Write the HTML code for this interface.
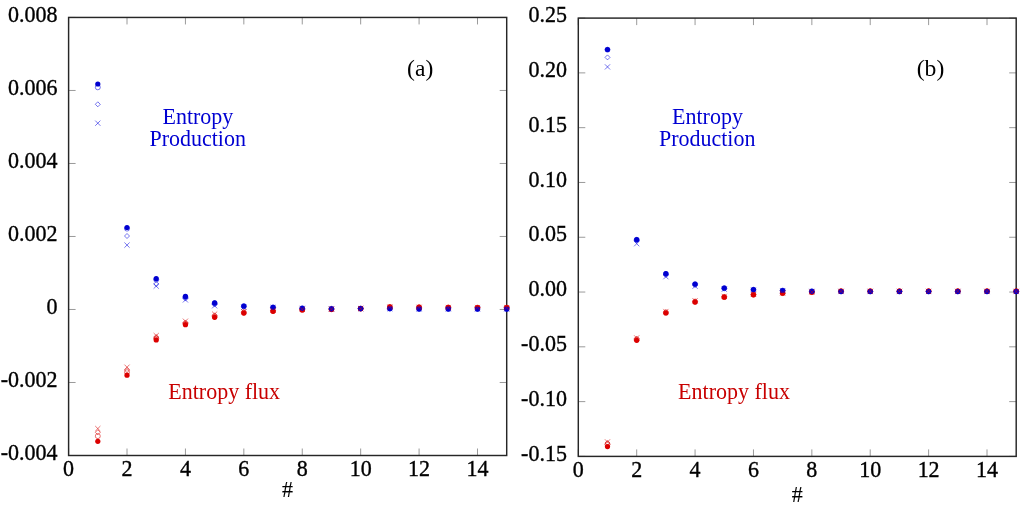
<!DOCTYPE html>
<html><head><meta charset="utf-8"><style>
html,body{margin:0;padding:0;background:#fff;}
svg{display:block;will-change:transform;}
text{font-family:"Liberation Serif",serif;}
</style></head><body>
<svg width="1024" height="505" viewBox="0 0 1024 505">
<rect width="1024" height="505" fill="#fff"/>
<g stroke="#9a9a9a" stroke-width="1" fill="none"><path d="M68.6 455.5V448.5M68.6 17.45V24.45"/><path d="M127.01 455.5V448.5M127.01 17.45V24.45"/><path d="M185.43 455.5V448.5M185.43 17.45V24.45"/><path d="M243.84 455.5V448.5M243.84 17.45V24.45"/><path d="M302.25 455.5V448.5M302.25 17.45V24.45"/><path d="M360.67 455.5V448.5M360.67 17.45V24.45"/><path d="M419.08 455.5V448.5M419.08 17.45V24.45"/><path d="M477.49 455.5V448.5M477.49 17.45V24.45"/><path d="M68.6 17.45H75.6M506.7 17.45H499.7"/><path d="M68.6 90.46H75.6M506.7 90.46H499.7"/><path d="M68.6 163.47H75.6M506.7 163.47H499.7"/><path d="M68.6 236.48H75.6M506.7 236.48H499.7"/><path d="M68.6 309.48H75.6M506.7 309.48H499.7"/><path d="M68.6 382.49H75.6M506.7 382.49H499.7"/><path d="M68.6 455.5H75.6M506.7 455.5H499.7"/><path d="M578.3 456.4V449.4M578.3 18.1V25.1"/><path d="M636.69 456.4V449.4M636.69 18.1V25.1"/><path d="M695.07 456.4V449.4M695.07 18.1V25.1"/><path d="M753.46 456.4V449.4M753.46 18.1V25.1"/><path d="M811.85 456.4V449.4M811.85 18.1V25.1"/><path d="M870.23 456.4V449.4M870.23 18.1V25.1"/><path d="M928.62 456.4V449.4M928.62 18.1V25.1"/><path d="M987.01 456.4V449.4M987.01 18.1V25.1"/><path d="M578.3 18.1H585.3M1016.2 18.1H1009.2"/><path d="M578.3 72.89H585.3M1016.2 72.89H1009.2"/><path d="M578.3 127.67H585.3M1016.2 127.67H1009.2"/><path d="M578.3 182.46H585.3M1016.2 182.46H1009.2"/><path d="M578.3 237.25H585.3M1016.2 237.25H1009.2"/><path d="M578.3 292.04H585.3M1016.2 292.04H1009.2"/><path d="M578.3 346.82H585.3M1016.2 346.82H1009.2"/><path d="M578.3 401.61H585.3M1016.2 401.61H1009.2"/><path d="M578.3 456.4H585.3M1016.2 456.4H1009.2"/></g>
<g fill="none" stroke="#262626" stroke-width="1.45"><rect x="68.6" y="17.45" width="438.1" height="438.05"/><rect x="578.3" y="18.1" width="437.9" height="438.3"/></g>
<g font-size="22" fill="#000" stroke="#000" stroke-width="0.35">
<text transform="translate(57.5 21.65) scale(1 1.09)" text-anchor="end">0.008</text>
<text transform="translate(57.5 94.66) scale(1 1.09)" text-anchor="end">0.006</text>
<text transform="translate(57.5 167.67) scale(1 1.09)" text-anchor="end">0.004</text>
<text transform="translate(57.5 240.68) scale(1 1.09)" text-anchor="end">0.002</text>
<text transform="translate(57.5 313.68) scale(1 1.09)" text-anchor="end">0</text>
<text transform="translate(57.5 386.69) scale(1 1.09)" text-anchor="end">-0.002</text>
<text transform="translate(57.5 459.7) scale(1 1.09)" text-anchor="end">-0.004</text>
<text transform="translate(566.9 22.3) scale(1 1.09)" text-anchor="end">0.25</text>
<text transform="translate(566.9 77.09) scale(1 1.09)" text-anchor="end">0.20</text>
<text transform="translate(566.9 131.87) scale(1 1.09)" text-anchor="end">0.15</text>
<text transform="translate(566.9 186.66) scale(1 1.09)" text-anchor="end">0.10</text>
<text transform="translate(566.9 241.45) scale(1 1.09)" text-anchor="end">0.05</text>
<text transform="translate(566.9 296.24) scale(1 1.09)" text-anchor="end">0.00</text>
<text transform="translate(566.9 351.02) scale(1 1.09)" text-anchor="end">-0.05</text>
<text transform="translate(566.9 405.81) scale(1 1.09)" text-anchor="end">-0.10</text>
<text transform="translate(566.9 460.6) scale(1 1.09)" text-anchor="end">-0.15</text>
<text transform="translate(68.6 476.2) scale(1 1.09)" text-anchor="middle">0</text>
<text transform="translate(578.3 477.2) scale(1 1.09)" text-anchor="middle">0</text>
<text transform="translate(127.01 476.2) scale(1 1.09)" text-anchor="middle">2</text>
<text transform="translate(636.69 477.2) scale(1 1.09)" text-anchor="middle">2</text>
<text transform="translate(185.43 476.2) scale(1 1.09)" text-anchor="middle">4</text>
<text transform="translate(695.07 477.2) scale(1 1.09)" text-anchor="middle">4</text>
<text transform="translate(243.84 476.2) scale(1 1.09)" text-anchor="middle">6</text>
<text transform="translate(753.46 477.2) scale(1 1.09)" text-anchor="middle">6</text>
<text transform="translate(302.25 476.2) scale(1 1.09)" text-anchor="middle">8</text>
<text transform="translate(811.85 477.2) scale(1 1.09)" text-anchor="middle">8</text>
<text transform="translate(360.67 476.2) scale(1 1.09)" text-anchor="middle">10</text>
<text transform="translate(870.23 477.2) scale(1 1.09)" text-anchor="middle">10</text>
<text transform="translate(419.08 476.2) scale(1 1.09)" text-anchor="middle">12</text>
<text transform="translate(928.62 477.2) scale(1 1.09)" text-anchor="middle">12</text>
<text transform="translate(477.49 476.2) scale(1 1.09)" text-anchor="middle">14</text>
<text transform="translate(987.01 477.2) scale(1 1.09)" text-anchor="middle">14</text>
<text transform="translate(287.6 497.1) scale(1 1.03)" text-anchor="middle" stroke-width="0.1">#</text>
<text transform="translate(797.2 501.6) scale(1 1.03)" text-anchor="middle" stroke-width="0.1">#</text>
</g>
<g font-size="22">
<text transform="translate(420.2 75.6) scale(1 0.98)" text-anchor="middle" font-size="23.6">(a)</text>
<text transform="translate(930.5 76.4) scale(1 0.98)" text-anchor="middle" font-size="23.6">(b)</text>
<text transform="translate(197.9 124.1) scale(1 1.09)" text-anchor="middle" fill="#0000d2">Entropy</text>
<text transform="translate(197.7 145.6) scale(1 1.09)" text-anchor="middle" fill="#0000d2">Production</text>
<text transform="translate(707.5 124.3) scale(1 1.09)" text-anchor="middle" fill="#0000d2">Entropy</text>
<text transform="translate(707.2 145.9) scale(1 1.09)" text-anchor="middle" fill="#0000d2">Production</text>
<text transform="translate(224.2 398.6) scale(1 1.09)" text-anchor="middle" fill="#c80000">Entropy flux</text>
<text transform="translate(734 399) scale(1 1.09)" text-anchor="middle" fill="#c80000">Entropy flux</text>
</g>
<circle cx="97.81" cy="87.3" r="2.5" fill="none" stroke="#0000e0" stroke-width="0.9" stroke-opacity="0.6"/>
<path d="M97.81 101.8L100.31 104.3L97.81 106.8L95.31 104.3Z" fill="none" stroke="#0000e0" stroke-width="0.9" stroke-opacity="0.6"/>
<path d="M95.21 120.6L100.41 125.8M100.41 120.6L95.21 125.8" fill="none" stroke="#0000e0" stroke-width="0.9" stroke-opacity="0.6"/>
<circle cx="127.01" cy="228.6" r="2.5" fill="none" stroke="#0000e0" stroke-width="0.9" stroke-opacity="0.6"/>
<path d="M127.01 233.5L129.51 236L127.01 238.5L124.51 236Z" fill="none" stroke="#0000e0" stroke-width="0.9" stroke-opacity="0.6"/>
<path d="M124.41 242.5L129.61 247.7M129.61 242.5L124.41 247.7" fill="none" stroke="#0000e0" stroke-width="0.9" stroke-opacity="0.6"/>
<circle cx="156.22" cy="279.6" r="2.5" fill="none" stroke="#0000e0" stroke-width="0.9" stroke-opacity="0.6"/>
<path d="M156.22 281.5L158.72 284L156.22 286.5L153.72 284Z" fill="none" stroke="#0000e0" stroke-width="0.9" stroke-opacity="0.6"/>
<path d="M153.62 283.5L158.82 288.7M158.82 283.5L153.62 288.7" fill="none" stroke="#0000e0" stroke-width="0.9" stroke-opacity="0.6"/>
<circle cx="185.43" cy="297" r="2.5" fill="none" stroke="#0000e0" stroke-width="0.9" stroke-opacity="0.6"/>
<path d="M185.43 296L187.93 298.5L185.43 301L182.93 298.5Z" fill="none" stroke="#0000e0" stroke-width="0.9" stroke-opacity="0.6"/>
<path d="M182.83 297.3L188.03 302.5M188.03 297.3L182.83 302.5" fill="none" stroke="#0000e0" stroke-width="0.9" stroke-opacity="0.6"/>
<circle cx="214.63" cy="303.2" r="2.5" fill="none" stroke="#0000e0" stroke-width="0.9" stroke-opacity="0.6"/>
<path d="M214.63 302L217.13 304.5L214.63 307L212.13 304.5Z" fill="none" stroke="#0000e0" stroke-width="0.9" stroke-opacity="0.6"/>
<path d="M212.03 303.2L217.23 308.4M217.23 303.2L212.03 308.4" fill="none" stroke="#0000e0" stroke-width="0.9" stroke-opacity="0.6"/>
<circle cx="243.84" cy="306.2" r="2.5" fill="none" stroke="#0000e0" stroke-width="0.9" stroke-opacity="0.6"/>
<path d="M243.84 304.3L246.34 306.8L243.84 309.3L241.34 306.8Z" fill="none" stroke="#0000e0" stroke-width="0.9" stroke-opacity="0.6"/>
<path d="M241.24 304.6L246.44 309.8M246.44 304.6L241.24 309.8" fill="none" stroke="#0000e0" stroke-width="0.9" stroke-opacity="0.6"/>
<circle cx="273.05" cy="307.4" r="2.5" fill="none" stroke="#0000e0" stroke-width="0.9" stroke-opacity="0.6"/>
<path d="M273.05 305.1L275.55 307.6L273.05 310.1L270.55 307.6Z" fill="none" stroke="#0000e0" stroke-width="0.9" stroke-opacity="0.6"/>
<path d="M270.45 305L275.65 310.2M275.65 305L270.45 310.2" fill="none" stroke="#0000e0" stroke-width="0.9" stroke-opacity="0.6"/>
<circle cx="302.25" cy="308.3" r="2.5" fill="none" stroke="#0000e0" stroke-width="0.9" stroke-opacity="0.6"/>
<path d="M302.25 305.9L304.75 308.4L302.25 310.9L299.75 308.4Z" fill="none" stroke="#0000e0" stroke-width="0.9" stroke-opacity="0.6"/>
<path d="M299.65 305.8L304.85 311M304.85 305.8L299.65 311" fill="none" stroke="#0000e0" stroke-width="0.9" stroke-opacity="0.6"/>
<circle cx="331.46" cy="308.8" r="2.5" fill="none" stroke="#0000e0" stroke-width="0.9" stroke-opacity="0.6"/>
<path d="M331.46 306.3L333.96 308.8L331.46 311.3L328.96 308.8Z" fill="none" stroke="#0000e0" stroke-width="0.9" stroke-opacity="0.6"/>
<path d="M328.86 306.2L334.06 311.4M334.06 306.2L328.86 311.4" fill="none" stroke="#0000e0" stroke-width="0.9" stroke-opacity="0.6"/>
<circle cx="360.67" cy="308.6" r="2.5" fill="none" stroke="#0000e0" stroke-width="0.9" stroke-opacity="0.6"/>
<path d="M360.67 306.1L363.17 308.6L360.67 311.1L358.17 308.6Z" fill="none" stroke="#0000e0" stroke-width="0.9" stroke-opacity="0.6"/>
<path d="M358.07 306L363.27 311.2M363.27 306L358.07 311.2" fill="none" stroke="#0000e0" stroke-width="0.9" stroke-opacity="0.6"/>
<circle cx="389.87" cy="308.6" r="2.5" fill="none" stroke="#0000e0" stroke-width="0.9" stroke-opacity="0.6"/>
<path d="M389.87 306.1L392.37 308.6L389.87 311.1L387.37 308.6Z" fill="none" stroke="#0000e0" stroke-width="0.9" stroke-opacity="0.6"/>
<path d="M387.27 306L392.47 311.2M392.47 306L387.27 311.2" fill="none" stroke="#0000e0" stroke-width="0.9" stroke-opacity="0.6"/>
<circle cx="419.08" cy="308.9" r="2.5" fill="none" stroke="#0000e0" stroke-width="0.9" stroke-opacity="0.6"/>
<path d="M419.08 306.4L421.58 308.9L419.08 311.4L416.58 308.9Z" fill="none" stroke="#0000e0" stroke-width="0.9" stroke-opacity="0.6"/>
<path d="M416.48 306.3L421.68 311.5M421.68 306.3L416.48 311.5" fill="none" stroke="#0000e0" stroke-width="0.9" stroke-opacity="0.6"/>
<circle cx="448.29" cy="308.9" r="2.5" fill="none" stroke="#0000e0" stroke-width="0.9" stroke-opacity="0.6"/>
<path d="M448.29 306.4L450.79 308.9L448.29 311.4L445.79 308.9Z" fill="none" stroke="#0000e0" stroke-width="0.9" stroke-opacity="0.6"/>
<path d="M445.69 306.3L450.89 311.5M450.89 306.3L445.69 311.5" fill="none" stroke="#0000e0" stroke-width="0.9" stroke-opacity="0.6"/>
<circle cx="477.49" cy="309" r="2.5" fill="none" stroke="#0000e0" stroke-width="0.9" stroke-opacity="0.6"/>
<path d="M477.49 306.5L479.99 309L477.49 311.5L474.99 309Z" fill="none" stroke="#0000e0" stroke-width="0.9" stroke-opacity="0.6"/>
<path d="M474.89 306.4L480.09 311.6M480.09 306.4L474.89 311.6" fill="none" stroke="#0000e0" stroke-width="0.9" stroke-opacity="0.6"/>
<circle cx="506.7" cy="309" r="2.5" fill="none" stroke="#0000e0" stroke-width="0.9" stroke-opacity="0.6"/>
<path d="M506.7 306.5L509.2 309L506.7 311.5L504.2 309Z" fill="none" stroke="#0000e0" stroke-width="0.9" stroke-opacity="0.6"/>
<path d="M504.1 306.4L509.3 311.6M509.3 306.4L504.1 311.6" fill="none" stroke="#0000e0" stroke-width="0.9" stroke-opacity="0.6"/>
<circle cx="97.81" cy="436.1" r="2.5" fill="none" stroke="#d80000" stroke-width="0.9" stroke-opacity="0.6"/>
<path d="M97.81 429.8L100.31 432.3L97.81 434.8L95.31 432.3Z" fill="none" stroke="#d80000" stroke-width="0.9" stroke-opacity="0.6"/>
<circle cx="127.01" cy="372.2" r="2.5" fill="none" stroke="#d80000" stroke-width="0.9" stroke-opacity="0.6"/>
<path d="M127.01 367.6L129.51 370.1L127.01 372.6L124.51 370.1Z" fill="none" stroke="#d80000" stroke-width="0.9" stroke-opacity="0.6"/>
<circle cx="156.22" cy="338.5" r="2.5" fill="none" stroke="#d80000" stroke-width="0.9" stroke-opacity="0.6"/>
<path d="M156.22 334.5L158.72 337L156.22 339.5L153.72 337Z" fill="none" stroke="#d80000" stroke-width="0.9" stroke-opacity="0.6"/>
<circle cx="185.43" cy="323.8" r="2.5" fill="none" stroke="#d80000" stroke-width="0.9" stroke-opacity="0.6"/>
<path d="M185.43 320L187.93 322.5L185.43 325L182.93 322.5Z" fill="none" stroke="#d80000" stroke-width="0.9" stroke-opacity="0.6"/>
<circle cx="214.63" cy="316.5" r="2.5" fill="none" stroke="#d80000" stroke-width="0.9" stroke-opacity="0.6"/>
<path d="M214.63 312.8L217.13 315.3L214.63 317.8L212.13 315.3Z" fill="none" stroke="#d80000" stroke-width="0.9" stroke-opacity="0.6"/>
<circle cx="243.84" cy="312.6" r="2.5" fill="none" stroke="#d80000" stroke-width="0.9" stroke-opacity="0.6"/>
<path d="M243.84 309.5L246.34 312L243.84 314.5L241.34 312Z" fill="none" stroke="#d80000" stroke-width="0.9" stroke-opacity="0.6"/>
<circle cx="273.05" cy="311" r="2.5" fill="none" stroke="#d80000" stroke-width="0.9" stroke-opacity="0.6"/>
<path d="M273.05 308.2L275.55 310.7L273.05 313.2L270.55 310.7Z" fill="none" stroke="#d80000" stroke-width="0.9" stroke-opacity="0.6"/>
<circle cx="302.25" cy="309.8" r="2.5" fill="none" stroke="#d80000" stroke-width="0.9" stroke-opacity="0.6"/>
<path d="M302.25 307.1L304.75 309.6L302.25 312.1L299.75 309.6Z" fill="none" stroke="#d80000" stroke-width="0.9" stroke-opacity="0.6"/>
<circle cx="331.46" cy="309.3" r="2.5" fill="none" stroke="#d80000" stroke-width="0.9" stroke-opacity="0.6"/>
<path d="M331.46 306.7L333.96 309.2L331.46 311.7L328.96 309.2Z" fill="none" stroke="#d80000" stroke-width="0.9" stroke-opacity="0.6"/>
<circle cx="360.67" cy="308.6" r="2.5" fill="none" stroke="#d80000" stroke-width="0.9" stroke-opacity="0.6"/>
<path d="M360.67 306.1L363.17 308.6L360.67 311.1L358.17 308.6Z" fill="none" stroke="#d80000" stroke-width="0.9" stroke-opacity="0.6"/>
<circle cx="389.87" cy="307" r="2.5" fill="none" stroke="#d80000" stroke-width="0.9" stroke-opacity="0.6"/>
<path d="M389.87 304.5L392.37 307L389.87 309.5L387.37 307Z" fill="none" stroke="#d80000" stroke-width="0.9" stroke-opacity="0.6"/>
<circle cx="419.08" cy="307.3" r="2.5" fill="none" stroke="#d80000" stroke-width="0.9" stroke-opacity="0.6"/>
<path d="M419.08 304.8L421.58 307.3L419.08 309.8L416.58 307.3Z" fill="none" stroke="#d80000" stroke-width="0.9" stroke-opacity="0.6"/>
<circle cx="448.29" cy="307.5" r="2.5" fill="none" stroke="#d80000" stroke-width="0.9" stroke-opacity="0.6"/>
<path d="M448.29 305L450.79 307.5L448.29 310L445.79 307.5Z" fill="none" stroke="#d80000" stroke-width="0.9" stroke-opacity="0.6"/>
<circle cx="477.49" cy="307.6" r="2.5" fill="none" stroke="#d80000" stroke-width="0.9" stroke-opacity="0.6"/>
<path d="M477.49 305.1L479.99 307.6L477.49 310.1L474.99 307.6Z" fill="none" stroke="#d80000" stroke-width="0.9" stroke-opacity="0.6"/>
<circle cx="506.7" cy="307.6" r="2.5" fill="none" stroke="#d80000" stroke-width="0.9" stroke-opacity="0.6"/>
<path d="M506.7 305.1L509.2 307.6L506.7 310.1L504.2 307.6Z" fill="none" stroke="#d80000" stroke-width="0.9" stroke-opacity="0.6"/>
<circle cx="97.81" cy="441.3" r="2.6" fill="#dc0000"/>
<circle cx="127.01" cy="375.2" r="2.6" fill="#dc0000"/>
<circle cx="156.22" cy="339.9" r="2.6" fill="#dc0000"/>
<circle cx="185.43" cy="324.7" r="2.6" fill="#dc0000"/>
<circle cx="214.63" cy="317.3" r="2.6" fill="#dc0000"/>
<circle cx="243.84" cy="313.1" r="2.6" fill="#dc0000"/>
<circle cx="273.05" cy="311.3" r="2.6" fill="#dc0000"/>
<circle cx="302.25" cy="310" r="2.6" fill="#dc0000"/>
<circle cx="331.46" cy="309.4" r="2.6" fill="#dc0000"/>
<circle cx="360.67" cy="308.6" r="2.6" fill="#dc0000"/>
<circle cx="389.87" cy="306.9" r="2.6" fill="#dc0000"/>
<circle cx="419.08" cy="307.2" r="2.6" fill="#dc0000"/>
<circle cx="448.29" cy="307.4" r="2.6" fill="#dc0000"/>
<circle cx="477.49" cy="307.5" r="2.6" fill="#dc0000"/>
<circle cx="506.7" cy="307.5" r="2.6" fill="#dc0000"/>
<circle cx="97.81" cy="84" r="2.6" fill="#0000d0"/>
<circle cx="127.01" cy="227.5" r="2.6" fill="#0000d0"/>
<circle cx="156.22" cy="278.7" r="2.6" fill="#0000d0"/>
<circle cx="185.43" cy="296.4" r="2.6" fill="#0000d0"/>
<circle cx="214.63" cy="302.9" r="2.6" fill="#0000d0"/>
<circle cx="243.84" cy="306" r="2.6" fill="#0000d0"/>
<circle cx="273.05" cy="307.3" r="2.6" fill="#0000d0"/>
<circle cx="302.25" cy="308.3" r="2.6" fill="#0000d0"/>
<circle cx="331.46" cy="308.8" r="2.6" fill="#0000d0"/>
<circle cx="360.67" cy="308.6" r="2.6" fill="#0000d0"/>
<circle cx="389.87" cy="308.6" r="2.6" fill="#0000d0"/>
<circle cx="419.08" cy="308.9" r="2.6" fill="#0000d0"/>
<circle cx="448.29" cy="308.9" r="2.6" fill="#0000d0"/>
<circle cx="477.49" cy="309" r="2.6" fill="#0000d0"/>
<circle cx="506.7" cy="309" r="2.6" fill="#0000d0"/>
<path d="M95.21 426L100.41 431.2M100.41 426L95.21 431.2" fill="none" stroke="#d80000" stroke-width="0.9" stroke-opacity="0.6"/>
<path d="M124.41 364.6L129.61 369.8M129.61 364.6L124.41 369.8" fill="none" stroke="#d80000" stroke-width="0.9" stroke-opacity="0.6"/>
<path d="M153.62 333L158.82 338.2M158.82 333L153.62 338.2" fill="none" stroke="#d80000" stroke-width="0.9" stroke-opacity="0.6"/>
<path d="M182.83 318.6L188.03 323.8M188.03 318.6L182.83 323.8" fill="none" stroke="#d80000" stroke-width="0.9" stroke-opacity="0.6"/>
<path d="M212.03 311.5L217.23 316.7M217.23 311.5L212.03 316.7" fill="none" stroke="#d80000" stroke-width="0.9" stroke-opacity="0.6"/>
<path d="M241.24 308.9L246.44 314.1M246.44 308.9L241.24 314.1" fill="none" stroke="#d80000" stroke-width="0.9" stroke-opacity="0.6"/>
<path d="M270.45 307.8L275.65 313M275.65 307.8L270.45 313" fill="none" stroke="#d80000" stroke-width="0.9" stroke-opacity="0.6"/>
<path d="M299.65 306.8L304.85 312M304.85 306.8L299.65 312" fill="none" stroke="#d80000" stroke-width="0.9" stroke-opacity="0.6"/>
<path d="M328.86 306.5L334.06 311.7M334.06 306.5L328.86 311.7" fill="none" stroke="#d80000" stroke-width="0.9" stroke-opacity="0.6"/>
<path d="M358.07 306L363.27 311.2M363.27 306L358.07 311.2" fill="none" stroke="#d80000" stroke-width="0.9" stroke-opacity="0.6"/>
<path d="M387.27 304.4L392.47 309.6M392.47 304.4L387.27 309.6" fill="none" stroke="#d80000" stroke-width="0.9" stroke-opacity="0.6"/>
<path d="M416.48 304.7L421.68 309.9M421.68 304.7L416.48 309.9" fill="none" stroke="#d80000" stroke-width="0.9" stroke-opacity="0.6"/>
<path d="M445.69 304.9L450.89 310.1M450.89 304.9L445.69 310.1" fill="none" stroke="#d80000" stroke-width="0.9" stroke-opacity="0.6"/>
<path d="M474.89 305L480.09 310.2M480.09 305L474.89 310.2" fill="none" stroke="#d80000" stroke-width="0.9" stroke-opacity="0.6"/>
<path d="M504.1 305L509.3 310.2M509.3 305L504.1 310.2" fill="none" stroke="#d80000" stroke-width="0.9" stroke-opacity="0.6"/>
<circle cx="607.49" cy="49.7" r="2.5" fill="none" stroke="#0000e0" stroke-width="0.9" stroke-opacity="0.6"/>
<path d="M607.49 54.9L609.99 57.4L607.49 59.9L604.99 57.4Z" fill="none" stroke="#0000e0" stroke-width="0.9" stroke-opacity="0.6"/>
<path d="M604.89 64.3L610.09 69.5M610.09 64.3L604.89 69.5" fill="none" stroke="#0000e0" stroke-width="0.9" stroke-opacity="0.6"/>
<circle cx="636.69" cy="239.8" r="2.5" fill="none" stroke="#0000e0" stroke-width="0.9" stroke-opacity="0.6"/>
<path d="M636.69 238L639.19 240.5L636.69 243L634.19 240.5Z" fill="none" stroke="#0000e0" stroke-width="0.9" stroke-opacity="0.6"/>
<path d="M634.09 241.1L639.29 246.3M639.29 241.1L634.09 246.3" fill="none" stroke="#0000e0" stroke-width="0.9" stroke-opacity="0.6"/>
<circle cx="665.88" cy="274" r="2.5" fill="none" stroke="#0000e0" stroke-width="0.9" stroke-opacity="0.6"/>
<path d="M665.88 272.5L668.38 275L665.88 277.5L663.38 275Z" fill="none" stroke="#0000e0" stroke-width="0.9" stroke-opacity="0.6"/>
<path d="M663.28 274.1L668.48 279.3M668.48 274.1L663.28 279.3" fill="none" stroke="#0000e0" stroke-width="0.9" stroke-opacity="0.6"/>
<circle cx="695.07" cy="284.3" r="2.5" fill="none" stroke="#0000e0" stroke-width="0.9" stroke-opacity="0.6"/>
<path d="M695.07 282.5L697.57 285L695.07 287.5L692.57 285Z" fill="none" stroke="#0000e0" stroke-width="0.9" stroke-opacity="0.6"/>
<path d="M692.47 283.6L697.67 288.8M697.67 283.6L692.47 288.8" fill="none" stroke="#0000e0" stroke-width="0.9" stroke-opacity="0.6"/>
<circle cx="724.27" cy="288.2" r="2.5" fill="none" stroke="#0000e0" stroke-width="0.9" stroke-opacity="0.6"/>
<path d="M724.27 286.1L726.77 288.6L724.27 291.1L721.77 288.6Z" fill="none" stroke="#0000e0" stroke-width="0.9" stroke-opacity="0.6"/>
<path d="M721.67 286.6L726.87 291.8M726.87 286.6L721.67 291.8" fill="none" stroke="#0000e0" stroke-width="0.9" stroke-opacity="0.6"/>
<circle cx="753.46" cy="289.7" r="2.5" fill="none" stroke="#0000e0" stroke-width="0.9" stroke-opacity="0.6"/>
<path d="M753.46 287.5L755.96 290L753.46 292.5L750.96 290Z" fill="none" stroke="#0000e0" stroke-width="0.9" stroke-opacity="0.6"/>
<path d="M750.86 287.7L756.06 292.9M756.06 287.7L750.86 292.9" fill="none" stroke="#0000e0" stroke-width="0.9" stroke-opacity="0.6"/>
<circle cx="782.65" cy="290.6" r="2.5" fill="none" stroke="#0000e0" stroke-width="0.9" stroke-opacity="0.6"/>
<path d="M782.65 288.2L785.15 290.7L782.65 293.2L780.15 290.7Z" fill="none" stroke="#0000e0" stroke-width="0.9" stroke-opacity="0.6"/>
<path d="M780.05 288.2L785.25 293.4M785.25 288.2L780.05 293.4" fill="none" stroke="#0000e0" stroke-width="0.9" stroke-opacity="0.6"/>
<circle cx="811.85" cy="291.3" r="2.5" fill="none" stroke="#0000e0" stroke-width="0.9" stroke-opacity="0.6"/>
<path d="M811.85 288.9L814.35 291.4L811.85 293.9L809.35 291.4Z" fill="none" stroke="#0000e0" stroke-width="0.9" stroke-opacity="0.6"/>
<path d="M809.25 288.8L814.45 294M814.45 288.8L809.25 294" fill="none" stroke="#0000e0" stroke-width="0.9" stroke-opacity="0.6"/>
<circle cx="841.04" cy="291.5" r="2.5" fill="none" stroke="#0000e0" stroke-width="0.9" stroke-opacity="0.6"/>
<path d="M841.04 289L843.54 291.5L841.04 294L838.54 291.5Z" fill="none" stroke="#0000e0" stroke-width="0.9" stroke-opacity="0.6"/>
<path d="M838.44 288.9L843.64 294.1M843.64 288.9L838.44 294.1" fill="none" stroke="#0000e0" stroke-width="0.9" stroke-opacity="0.6"/>
<circle cx="870.23" cy="291.5" r="2.5" fill="none" stroke="#0000e0" stroke-width="0.9" stroke-opacity="0.6"/>
<path d="M870.23 289L872.73 291.5L870.23 294L867.73 291.5Z" fill="none" stroke="#0000e0" stroke-width="0.9" stroke-opacity="0.6"/>
<path d="M867.63 288.9L872.83 294.1M872.83 288.9L867.63 294.1" fill="none" stroke="#0000e0" stroke-width="0.9" stroke-opacity="0.6"/>
<circle cx="899.43" cy="291.5" r="2.5" fill="none" stroke="#0000e0" stroke-width="0.9" stroke-opacity="0.6"/>
<path d="M899.43 289L901.93 291.5L899.43 294L896.93 291.5Z" fill="none" stroke="#0000e0" stroke-width="0.9" stroke-opacity="0.6"/>
<path d="M896.83 288.9L902.03 294.1M902.03 288.9L896.83 294.1" fill="none" stroke="#0000e0" stroke-width="0.9" stroke-opacity="0.6"/>
<circle cx="928.62" cy="291.5" r="2.5" fill="none" stroke="#0000e0" stroke-width="0.9" stroke-opacity="0.6"/>
<path d="M928.62 289L931.12 291.5L928.62 294L926.12 291.5Z" fill="none" stroke="#0000e0" stroke-width="0.9" stroke-opacity="0.6"/>
<path d="M926.02 288.9L931.22 294.1M931.22 288.9L926.02 294.1" fill="none" stroke="#0000e0" stroke-width="0.9" stroke-opacity="0.6"/>
<circle cx="957.81" cy="291.5" r="2.5" fill="none" stroke="#0000e0" stroke-width="0.9" stroke-opacity="0.6"/>
<path d="M957.81 289L960.31 291.5L957.81 294L955.31 291.5Z" fill="none" stroke="#0000e0" stroke-width="0.9" stroke-opacity="0.6"/>
<path d="M955.21 288.9L960.41 294.1M960.41 288.9L955.21 294.1" fill="none" stroke="#0000e0" stroke-width="0.9" stroke-opacity="0.6"/>
<circle cx="987.01" cy="291.5" r="2.5" fill="none" stroke="#0000e0" stroke-width="0.9" stroke-opacity="0.6"/>
<path d="M987.01 289L989.51 291.5L987.01 294L984.51 291.5Z" fill="none" stroke="#0000e0" stroke-width="0.9" stroke-opacity="0.6"/>
<path d="M984.41 288.9L989.61 294.1M989.61 288.9L984.41 294.1" fill="none" stroke="#0000e0" stroke-width="0.9" stroke-opacity="0.6"/>
<circle cx="1016.2" cy="291.5" r="2.5" fill="none" stroke="#0000e0" stroke-width="0.9" stroke-opacity="0.6"/>
<path d="M1016.2 289L1018.7 291.5L1016.2 294L1013.7 291.5Z" fill="none" stroke="#0000e0" stroke-width="0.9" stroke-opacity="0.6"/>
<path d="M1013.6 288.9L1018.8 294.1M1018.8 288.9L1013.6 294.1" fill="none" stroke="#0000e0" stroke-width="0.9" stroke-opacity="0.6"/>
<circle cx="607.49" cy="444.2" r="2.5" fill="none" stroke="#d80000" stroke-width="0.9" stroke-opacity="0.6"/>
<path d="M607.49 440.5L609.99 443L607.49 445.5L604.99 443Z" fill="none" stroke="#d80000" stroke-width="0.9" stroke-opacity="0.6"/>
<circle cx="636.69" cy="339.5" r="2.5" fill="none" stroke="#d80000" stroke-width="0.9" stroke-opacity="0.6"/>
<path d="M636.69 336.2L639.19 338.7L636.69 341.2L634.19 338.7Z" fill="none" stroke="#d80000" stroke-width="0.9" stroke-opacity="0.6"/>
<circle cx="665.88" cy="312.6" r="2.5" fill="none" stroke="#d80000" stroke-width="0.9" stroke-opacity="0.6"/>
<path d="M665.88 309.5L668.38 312L665.88 314.5L663.38 312Z" fill="none" stroke="#d80000" stroke-width="0.9" stroke-opacity="0.6"/>
<circle cx="695.07" cy="301.8" r="2.5" fill="none" stroke="#d80000" stroke-width="0.9" stroke-opacity="0.6"/>
<path d="M695.07 298.7L697.57 301.2L695.07 303.7L692.57 301.2Z" fill="none" stroke="#d80000" stroke-width="0.9" stroke-opacity="0.6"/>
<circle cx="724.27" cy="297" r="2.5" fill="none" stroke="#d80000" stroke-width="0.9" stroke-opacity="0.6"/>
<path d="M724.27 294.2L726.77 296.7L724.27 299.2L721.77 296.7Z" fill="none" stroke="#d80000" stroke-width="0.9" stroke-opacity="0.6"/>
<circle cx="753.46" cy="294.6" r="2.5" fill="none" stroke="#d80000" stroke-width="0.9" stroke-opacity="0.6"/>
<path d="M753.46 291.9L755.96 294.4L753.46 296.9L750.96 294.4Z" fill="none" stroke="#d80000" stroke-width="0.9" stroke-opacity="0.6"/>
<circle cx="782.65" cy="293.1" r="2.5" fill="none" stroke="#d80000" stroke-width="0.9" stroke-opacity="0.6"/>
<path d="M782.65 290.5L785.15 293L782.65 295.5L780.15 293Z" fill="none" stroke="#d80000" stroke-width="0.9" stroke-opacity="0.6"/>
<circle cx="811.85" cy="292.1" r="2.5" fill="none" stroke="#d80000" stroke-width="0.9" stroke-opacity="0.6"/>
<path d="M811.85 289.5L814.35 292L811.85 294.5L809.35 292Z" fill="none" stroke="#d80000" stroke-width="0.9" stroke-opacity="0.6"/>
<circle cx="841.04" cy="291.2" r="2.5" fill="none" stroke="#d80000" stroke-width="0.9" stroke-opacity="0.6"/>
<path d="M841.04 288.8L843.54 291.3L841.04 293.8L838.54 291.3Z" fill="none" stroke="#d80000" stroke-width="0.9" stroke-opacity="0.6"/>
<circle cx="870.23" cy="291.2" r="2.5" fill="none" stroke="#d80000" stroke-width="0.9" stroke-opacity="0.6"/>
<path d="M870.23 288.8L872.73 291.3L870.23 293.8L867.73 291.3Z" fill="none" stroke="#d80000" stroke-width="0.9" stroke-opacity="0.6"/>
<circle cx="899.43" cy="291.2" r="2.5" fill="none" stroke="#d80000" stroke-width="0.9" stroke-opacity="0.6"/>
<path d="M899.43 288.8L901.93 291.3L899.43 293.8L896.93 291.3Z" fill="none" stroke="#d80000" stroke-width="0.9" stroke-opacity="0.6"/>
<circle cx="928.62" cy="291.2" r="2.5" fill="none" stroke="#d80000" stroke-width="0.9" stroke-opacity="0.6"/>
<path d="M928.62 288.8L931.12 291.3L928.62 293.8L926.12 291.3Z" fill="none" stroke="#d80000" stroke-width="0.9" stroke-opacity="0.6"/>
<circle cx="957.81" cy="291.2" r="2.5" fill="none" stroke="#d80000" stroke-width="0.9" stroke-opacity="0.6"/>
<path d="M957.81 288.8L960.31 291.3L957.81 293.8L955.31 291.3Z" fill="none" stroke="#d80000" stroke-width="0.9" stroke-opacity="0.6"/>
<circle cx="987.01" cy="291.2" r="2.5" fill="none" stroke="#d80000" stroke-width="0.9" stroke-opacity="0.6"/>
<path d="M987.01 288.8L989.51 291.3L987.01 293.8L984.51 291.3Z" fill="none" stroke="#d80000" stroke-width="0.9" stroke-opacity="0.6"/>
<circle cx="1016.2" cy="291.2" r="2.5" fill="none" stroke="#d80000" stroke-width="0.9" stroke-opacity="0.6"/>
<path d="M1016.2 288.8L1018.7 291.3L1016.2 293.8L1013.7 291.3Z" fill="none" stroke="#d80000" stroke-width="0.9" stroke-opacity="0.6"/>
<circle cx="607.49" cy="446.6" r="2.6" fill="#dc0000"/>
<circle cx="636.69" cy="340.3" r="2.6" fill="#dc0000"/>
<circle cx="665.88" cy="313" r="2.6" fill="#dc0000"/>
<circle cx="695.07" cy="302.1" r="2.6" fill="#dc0000"/>
<circle cx="724.27" cy="297.2" r="2.6" fill="#dc0000"/>
<circle cx="753.46" cy="294.8" r="2.6" fill="#dc0000"/>
<circle cx="782.65" cy="293.2" r="2.6" fill="#dc0000"/>
<circle cx="811.85" cy="292.2" r="2.6" fill="#dc0000"/>
<circle cx="841.04" cy="291" r="2.6" fill="#dc0000"/>
<circle cx="870.23" cy="291" r="2.6" fill="#dc0000"/>
<circle cx="899.43" cy="291" r="2.6" fill="#dc0000"/>
<circle cx="928.62" cy="291" r="2.6" fill="#dc0000"/>
<circle cx="957.81" cy="291" r="2.6" fill="#dc0000"/>
<circle cx="987.01" cy="291" r="2.6" fill="#dc0000"/>
<circle cx="1016.2" cy="291" r="2.6" fill="#dc0000"/>
<circle cx="607.49" cy="49.5" r="2.6" fill="#0000d0"/>
<circle cx="636.69" cy="239.5" r="2.6" fill="#0000d0"/>
<circle cx="665.88" cy="273.5" r="2.6" fill="#0000d0"/>
<circle cx="695.07" cy="284" r="2.6" fill="#0000d0"/>
<circle cx="724.27" cy="288" r="2.6" fill="#0000d0"/>
<circle cx="753.46" cy="289.6" r="2.6" fill="#0000d0"/>
<circle cx="782.65" cy="290.5" r="2.6" fill="#0000d0"/>
<circle cx="811.85" cy="291.3" r="2.6" fill="#0000d0"/>
<circle cx="841.04" cy="291.5" r="2.6" fill="#0000d0"/>
<circle cx="870.23" cy="291.5" r="2.6" fill="#0000d0"/>
<circle cx="899.43" cy="291.5" r="2.6" fill="#0000d0"/>
<circle cx="928.62" cy="291.5" r="2.6" fill="#0000d0"/>
<circle cx="957.81" cy="291.5" r="2.6" fill="#0000d0"/>
<circle cx="987.01" cy="291.5" r="2.6" fill="#0000d0"/>
<circle cx="1016.2" cy="291.5" r="2.6" fill="#0000d0"/>
<path d="M604.89 439.3L610.09 444.5M610.09 439.3L604.89 444.5" fill="none" stroke="#d80000" stroke-width="0.9" stroke-opacity="0.6"/>
<path d="M634.09 335.3L639.29 340.5M639.29 335.3L634.09 340.5" fill="none" stroke="#d80000" stroke-width="0.9" stroke-opacity="0.6"/>
<path d="M663.28 308.9L668.48 314.1M668.48 308.9L663.28 314.1" fill="none" stroke="#d80000" stroke-width="0.9" stroke-opacity="0.6"/>
<path d="M692.47 298.1L697.67 303.3M697.67 298.1L692.47 303.3" fill="none" stroke="#d80000" stroke-width="0.9" stroke-opacity="0.6"/>
<path d="M721.67 293.8L726.87 299M726.87 293.8L721.67 299" fill="none" stroke="#d80000" stroke-width="0.9" stroke-opacity="0.6"/>
<path d="M750.86 291.6L756.06 296.8M756.06 291.6L750.86 296.8" fill="none" stroke="#d80000" stroke-width="0.9" stroke-opacity="0.6"/>
<path d="M780.05 290.3L785.25 295.5M785.25 290.3L780.05 295.5" fill="none" stroke="#d80000" stroke-width="0.9" stroke-opacity="0.6"/>
<path d="M809.25 289.4L814.45 294.6M814.45 289.4L809.25 294.6" fill="none" stroke="#d80000" stroke-width="0.9" stroke-opacity="0.6"/>
<path d="M838.44 288.8L843.64 294M843.64 288.8L838.44 294" fill="none" stroke="#d80000" stroke-width="0.9" stroke-opacity="0.6"/>
<path d="M867.63 288.8L872.83 294M872.83 288.8L867.63 294" fill="none" stroke="#d80000" stroke-width="0.9" stroke-opacity="0.6"/>
<path d="M896.83 288.8L902.03 294M902.03 288.8L896.83 294" fill="none" stroke="#d80000" stroke-width="0.9" stroke-opacity="0.6"/>
<path d="M926.02 288.8L931.22 294M931.22 288.8L926.02 294" fill="none" stroke="#d80000" stroke-width="0.9" stroke-opacity="0.6"/>
<path d="M955.21 288.8L960.41 294M960.41 288.8L955.21 294" fill="none" stroke="#d80000" stroke-width="0.9" stroke-opacity="0.6"/>
<path d="M984.41 288.8L989.61 294M989.61 288.8L984.41 294" fill="none" stroke="#d80000" stroke-width="0.9" stroke-opacity="0.6"/>
<path d="M1013.6 288.8L1018.8 294M1018.8 288.8L1013.6 294" fill="none" stroke="#d80000" stroke-width="0.9" stroke-opacity="0.6"/>
</svg>
</body></html>
